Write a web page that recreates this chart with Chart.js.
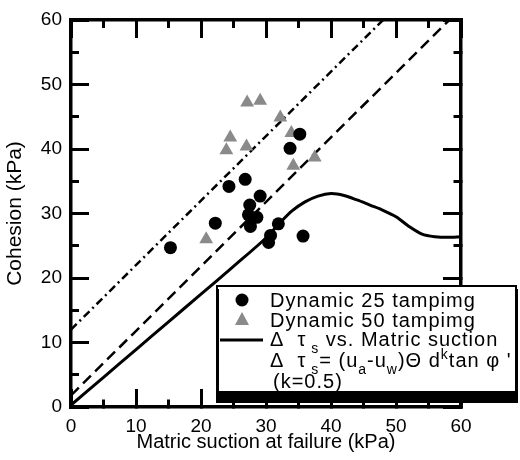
<!DOCTYPE html>
<html>
<head>
<meta charset="utf-8">
<script src="https://cdn.jsdelivr.net/npm/chart.js@4.4.1/dist/chart.umd.min.js"></script>
<style>
  html, body { margin: 0; padding: 0; background: #fff; }
</style>
</head>
<body>
<canvas id="chart" width="520" height="460"></canvas>
<script>
// Data
const dyn25X = [15.3, 22.2, 24.3, 26.8, 29.1, 27.5, 27.3, 28.6, 27.6, 30.4, 30.7, 31.9, 35.7, 33.7, 35.2];
const dyn25Y = [24.7, 28.5, 34.2, 35.3, 32.7, 31.3, 29.8, 29.4, 28.0, 25.5, 26.6, 28.4, 26.5, 40.1, 42.3];

const dyn50X = [27.1, 29.1, 32.2, 33.9, 24.5, 23.9, 27.0, 37.5, 34.2, 20.8];
const dyn50Y = [47.2, 47.5, 44.9, 42.5, 41.8, 39.8, 40.4, 38.7, 37.4, 26.0];

const curveX = [0, 5, 10, 15, 20, 25, 30, 32, 34, 36, 38, 40, 42, 44, 46, 48, 50, 52, 54, 56, 58, 60];
const curveY = [0.3, 4.6, 8.9, 13.2, 17.5, 21.8, 26.2, 28.4, 30.4, 31.8, 32.7, 33.1, 32.8, 32.1, 31.3, 30.5, 29.5, 28.0, 26.8, 26.4, 26.3, 26.4];

const dashX = [0, 58.2];
const dashY = [1.8, 60];
const dashDotX = [0, 48];
const dashDotY = [12, 60];

// major ticks every 10 (labelled), minor every 5
const axisTicks = [0, 5, 10, 15, 20, 25, 30, 35, 40, 45, 50, 55, 60];

const FONT = "'Liberation Sans', Arial, sans-serif";
const greyTri = '#8a8a8a';

const pts = (xs, ys) => xs.map((x, i) => ({ x: x, y: ys[i] }));
const isMajor = v => v % 10 === 0;

// ticks point into the plot; minor ones are cut short with a dash pattern
function frameAxis(position, startsAtBorder, extra) {
  return Object.assign({
    type: 'linear', min: 0, max: 60, position: position,
    afterBuildTicks: s => { s.ticks = axisTicks.map(v => ({ value: v })); },
    border: { display: true, color: '#000', width: 3.5 },
    grid: {
      display: true, drawOnChartArea: false, drawTicks: true,
      tickLength: -18, tickWidth: 3, tickColor: '#000',
      tickBorderDash: c => {
        if (c.tick && isMajor(c.tick.value)) return [];
        return startsAtBorder ? [9, 100] : [0, 10, 12, 100];
      }
    }
  }, extra);
}

function drawRuns(ctx, x, y, runs, size) {
  let cx = x;
  runs.forEach(r => {
    const s = r.sub || r.sup ? size * 0.7 : size;
    const dy = r.sub ? size * 0.35 : (r.sup ? -size * 0.4 : 0);
    ctx.font = s + 'px ' + FONT;
    ctx.fillText(r.t, cx, y + dy);
    cx += ctx.measureText(r.t).width;
  });
}

const legendPlugin = {
  id: 'boxLegend',
  afterDraw(chart) {
    const ctx = chart.ctx;
    const L = 216, T = 285, R = 517, B = 393;
    ctx.save();
    ctx.setLineDash([]);
    ctx.fillStyle = '#000';
    ctx.fillRect(L, T + 4, R - L + 1, B - T + 6);
    ctx.fillStyle = '#fff';
    ctx.fillRect(L + 3, T, R - L - 4, B - T);
    ctx.strokeStyle = '#000';
    ctx.lineWidth = 2;
    ctx.strokeRect(L + 1, T + 1, R - L - 2, B - T - 2);

    const size = 20;
    const tx = 270, mx = 242;
    ctx.fillStyle = '#000';
    ctx.textBaseline = 'alphabetic';
    ctx.textAlign = 'left';
    ctx.letterSpacing = '1px';

    ctx.beginPath();
    ctx.arc(mx, 300, 6.5, 0, Math.PI * 2);
    ctx.fill();
    drawRuns(ctx, tx, 307, [{ t: 'Dynamic 25 tampimg' }], size);

    ctx.fillStyle = greyTri;
    ctx.beginPath();
    ctx.moveTo(mx, 312); ctx.lineTo(mx + 7, 325); ctx.lineTo(mx - 7, 325);
    ctx.closePath();
    ctx.fill();
    ctx.fillStyle = '#000';
    drawRuns(ctx, tx, 327, [{ t: 'Dynamic 50 tampimg' }], size);

    ctx.lineWidth = 3;
    ctx.beginPath();
    ctx.moveTo(220, 340); ctx.lineTo(263, 340);
    ctx.stroke();
    drawRuns(ctx, tx, 346, [{ t: 'Δ  τ' }, { t: ' s', sub: true }, { t: ' vs. Matric suction' }], size);

    drawRuns(ctx, tx, 367, [
      { t: 'Δ  τ' }, { t: ' s', sub: true }, { t: '= (u' }, { t: 'a', sub: true },
      { t: '-u' }, { t: 'w', sub: true }, { t: ')Θ d' }, { t: 'k', sup: true }, { t: 'tan φ \'' }
    ], size);
    drawRuns(ctx, tx + 3, 388, [{ t: '(k=0.5)' }], size);
    ctx.restore();
  }
};

new Chart(document.getElementById('chart'), {
  type: 'scatter',
  data: {
    datasets: [{
      label: 'Dynamic 25 tampimg',
      data: pts(dyn25X, dyn25Y),
      pointStyle: 'circle',
      pointRadius: 6.5,
      backgroundColor: '#000',
      borderColor: '#000',
      borderWidth: 0
    }, {
      label: 'Dynamic 50 tampimg',
      data: pts(dyn50X, dyn50Y),
      pointStyle: 'triangle',
      pointRadius: 8,
      backgroundColor: greyTri,
      borderColor: greyTri,
      borderWidth: 0
    }, {
      label: 'curve',
      data: pts(curveX, curveY),
      showLine: true,
      pointRadius: 0,
      borderColor: '#000',
      borderWidth: 3,
      tension: 0.3
    }, {
      label: 'dashed',
      data: pts(dashX, dashY),
      showLine: true,
      pointRadius: 0,
      borderColor: '#000',
      borderWidth: 2.5,
      borderDash: [11, 6]
    }, {
      label: 'dashdot',
      data: pts(dashDotX, dashDotY),
      showLine: true,
      pointRadius: 0,
      borderColor: '#000',
      borderWidth: 2.5,
      borderDash: [8, 4, 2, 4]
    }]
  },
  plugins: [legendPlugin],
  options: {
    responsive: false,
    animation: false,
    layout: { padding: { top: 20, right: 59, left: 0, bottom: 0 } },
    plugins: { legend: { display: false }, tooltip: { enabled: false } },
    scales: {
      x: frameAxis('bottom', true, {
        // big label padding would otherwise widen the side margins
        afterFit: s => { s.height = 53; s.paddingLeft = 0; s.paddingRight = 0; },
        ticks: { color: '#000', padding: 26, font: { family: FONT, size: 19 },
                 callback: v => (isMajor(v) ? v : '') },
        title: { display: true, text: 'Matric suction at failure (kPa)', color: '#000',
                 font: { family: FONT, size: 20 }, padding: { top: 0, bottom: 6 } }
      }),
      y: frameAxis('left', false, {
        afterFit: s => { s.width = 71; s.paddingTop = 0; s.paddingBottom = 0; },
        ticks: { color: '#000', padding: 27, font: { family: FONT, size: 19 },
                 callback: v => (isMajor(v) ? v : '') },
        title: { display: true, text: 'Cohesion (kPa)', color: '#000',
                 font: { family: FONT, size: 21 }, padding: { top: 3, bottom: 0 } }
      }),
      x2: frameAxis('top', false, {
        afterFit: s => { s.height = 0; s.paddingLeft = 0; s.paddingRight = 0; },
        ticks: { display: false }
      }),
      y2: frameAxis('right', true, {
        afterFit: s => { s.width = 0; s.paddingTop = 0; s.paddingBottom = 0; },
        ticks: { display: false }
      })
    }
  }
});
</script>
</body>
</html>
